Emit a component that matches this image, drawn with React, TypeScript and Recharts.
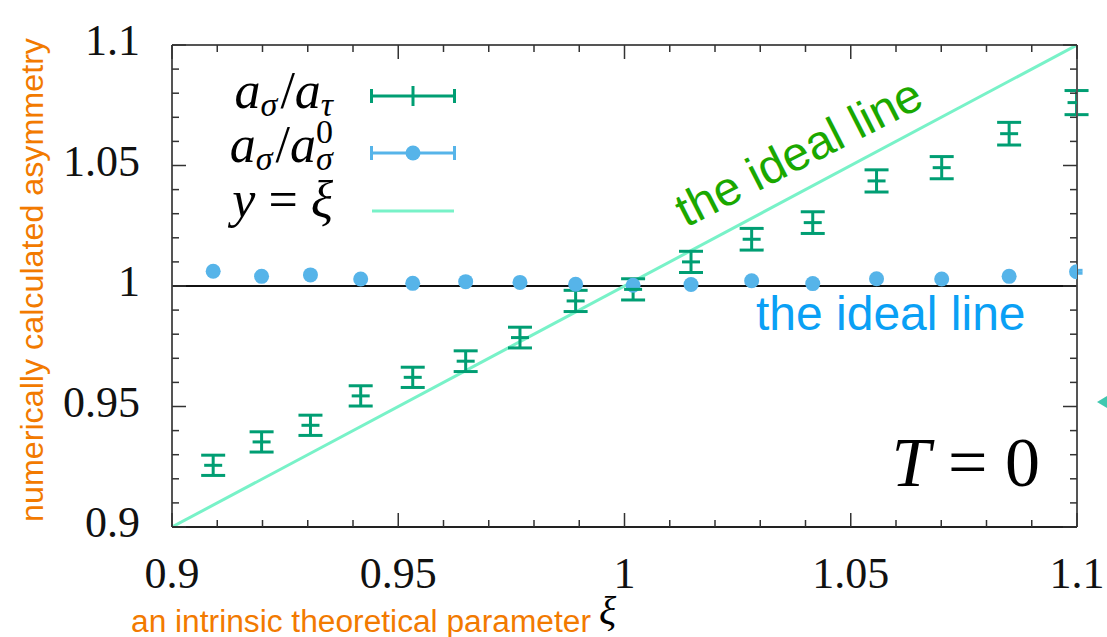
import React from "react";
import {
  ComposedChart,
  Scatter,
  Line,
  XAxis,
  YAxis,
  ErrorBar,
  ReferenceLine,
} from "recharts";

// ---- data ----
const xiValues = [
  0.9091, 0.9198, 0.9306, 0.9417, 0.9532, 0.9649, 0.9769, 0.9892, 1.0019,
  1.0147, 1.0281, 1.0416, 1.0557, 1.0701, 1.085, 1.0999,
];
const ratioTau = [
  0.9256, 0.9353, 0.9422, 0.9544, 0.9621, 0.9688, 0.9786, 0.9938, 0.9986,
  1.01, 1.0194, 1.0263, 1.0436, 1.0491, 1.0632, 1.0761,
];
const ratioTauErr = [
  0.0042, 0.0042, 0.0042, 0.0042, 0.0042, 0.0043, 0.0043, 0.0044, 0.0044,
  0.0044, 0.0045, 0.0045, 0.0046, 0.0046, 0.0047, 0.005,
];
const ratioZero = [
  1.0061, 1.004, 1.0046, 1.0029, 1.0011, 1.0018, 1.0015, 1.0007, 1.0003,
  1.0006, 1.0022, 1.001, 1.003, 1.0029, 1.004, 1.0059,
];
const ratioZeroErr = [
  0.0006, 0.0006, 0.0006, 0.0006, 0.0006, 0.0006, 0.0006, 0.0006, 0.0006,
  0.0006, 0.0006, 0.0006, 0.0006, 0.0006, 0.0006, 0.0006,
];
const idealX = [0.9, 1.1];
const xTicks = [
  0.9, 0.91, 0.92, 0.93, 0.94, 0.95, 0.96, 0.97, 0.98, 0.99, 1.0, 1.01, 1.02,
  1.03, 1.04, 1.05, 1.06, 1.07, 1.08, 1.09, 1.1,
];
const yTicks = xTicks;
const majorTicks = [0.9, 0.95, 1.0, 1.05, 1.1];
const majorTickLabels = ["0.9", "0.95", "1", "1.05", "1.1"];

const tauData = xiValues.map((x, i) => ({ x, y: ratioTau[i], err: ratioTauErr[i] }));
const zeroData = xiValues.map((x, i) => ({ x, y: ratioZero[i], err: ratioZeroErr[i] }));
const idealData = idealX.map((x) => ({ x, y: x }));

// ---- style ----
const W = 1107;
const H = 637;
const M_TOP = 45;
const M_RIGHT = 30;
const Y_AXIS_W = 172;
const X_AXIS_H = 110;
const PLOT_W = W - Y_AXIS_W - M_RIGHT;
const PLOT_H = H - M_TOP - X_AXIS_H;

const GREEN = "#009e73";
const BLUE = "#56b4e9";
const AQUA = "#78f2c8";
const ORANGE = "#f27a00";
const SERIF = "'Liberation Serif', 'DejaVu Serif', serif";
const SANS = "'Liberation Sans', Arial, sans-serif";
const TICK_COLOR = "#333";

const labelFor = (v: number) => {
  const idx = majorTicks.findIndex((m) => Math.abs(m - v) < 1e-9);
  return idx >= 0 ? majorTickLabels[idx] : null;
};

const XTick = (props: any) => {
  const { x, y, payload } = props;
  const label = labelFor(payload.value);
  const len = label ? 14 : 7;
  return (
    <g>
      <line x1={x} y1={y} x2={x} y2={y - len} stroke={TICK_COLOR} strokeWidth={1.5} />
      <line x1={x} y1={y - PLOT_H} x2={x} y2={y - PLOT_H + len} stroke={TICK_COLOR} strokeWidth={1.5} />
      {label && (
        <text x={x} y={y + 61} textAnchor="middle" fontFamily={SERIF} fontSize={44} fill="#111">
          {label}
        </text>
      )}
    </g>
  );
};

const YTick = (props: any) => {
  const { x, y, payload } = props;
  const label = labelFor(payload.value);
  const len = label ? 14 : 7;
  return (
    <g>
      <line x1={x} y1={y} x2={x + len} y2={y} stroke={TICK_COLOR} strokeWidth={1.5} />
      <line x1={x + PLOT_W} y1={y} x2={x + PLOT_W - len} y2={y} stroke={TICK_COLOR} strokeWidth={1.5} />
      {label && (
        <text x={x - 32} y={y + 10} textAnchor="end" fontFamily={SERIF} fontSize={44} fill="#111">
          {label}
        </text>
      )}
    </g>
  );
};

const PlusShape = (props: any) => {
  const { cx, cy } = props;
  return (
    <g>
      <line x1={cx - 9} y1={cy} x2={cx + 9} y2={cy} stroke={GREEN} strokeWidth={3} />
    </g>
  );
};

const DotShape = (props: any) => {
  const { cx, cy } = props;
  return <circle cx={cx} cy={cy} r={7.5} fill={BLUE} />;
};

const Overlay = () => (
  <svg
    width={W}
    height={H}
    style={{ position: "absolute", left: 0, top: 0, pointerEvents: "none" }}
  >
    {/* legend */}
    <text x={333} y={108} textAnchor="end" fontFamily={SERIF} fontSize={52} fill="#000">
      <tspan fontStyle="italic">a</tspan>
      <tspan fontStyle="italic" fontSize={34} dy={8}>σ</tspan>
      <tspan dy={-8} dx={3}>/</tspan>
      <tspan fontStyle="italic">a</tspan>
      <tspan fontStyle="italic" fontSize={34} dy={8}>τ</tspan>
    </text>
    <line x1={370} y1={96} x2={456} y2={96} stroke={GREEN} strokeWidth={3} />
    <line x1={371.5} y1={89} x2={371.5} y2={103} stroke={GREEN} strokeWidth={3} />
    <line x1={454.5} y1={89} x2={454.5} y2={103} stroke={GREEN} strokeWidth={3} />
    <line x1={413} y1={86} x2={413} y2={106} stroke={GREEN} strokeWidth={3} />

    <text x={333} y={162} textAnchor="end" fontFamily={SERIF} fontSize={52} fill="#000">
      <tspan fontStyle="italic">a</tspan>
      <tspan fontStyle="italic" fontSize={34} dy={8}>σ</tspan>
      <tspan dy={-8} dx={3}>/</tspan>
      <tspan fontStyle="italic">a</tspan>
      <tspan fontSize={34} dy={-19}>0</tspan>
      <tspan fontStyle="italic" fontSize={34} dx={-17} dy={27}>σ</tspan>
    </text>
    <line x1={370} y1={153} x2={456} y2={153} stroke={BLUE} strokeWidth={3} />
    <line x1={371.5} y1={146} x2={371.5} y2={160} stroke={BLUE} strokeWidth={3} />
    <line x1={454.5} y1={146} x2={454.5} y2={160} stroke={BLUE} strokeWidth={3} />
    <circle cx={413} cy={153} r={7.5} fill={BLUE} />

    <text x={333} y={217} textAnchor="end" fontFamily={SERIF} fontSize={52} fill="#000">
      <tspan fontStyle="italic">y</tspan>
      <tspan> = </tspan>
      <tspan fontStyle="italic">ξ</tspan>
    </text>
    <line x1={372} y1={211} x2={454} y2={211} stroke={AQUA} strokeWidth={3} />

    {/* annotations */}
    <text
      x={686}
      y={228}
      fontFamily={SANS}
      fontSize={48}
      fill="#1aa800"
      transform="rotate(-27 686 228)"
    >
      the ideal line
    </text>
    <text x={756} y={330} fontFamily={SANS} fontSize={48} fill="#0aa0f5">
      the ideal line
    </text>
    <text x={1040} y={486} textAnchor="end" fontFamily={SERIF} fontSize={70} fill="#000">
      <tspan fontStyle="italic">T</tspan>
      <tspan> = 0</tspan>
    </text>
    <polygon points="1097,402 1107,396 1107,408" fill="#40c8b0" />

    {/* axis titles */}
    <text
      x={43}
      y={280}
      textAnchor="middle"
      fontFamily={SANS}
      fontSize={31}
      fill={ORANGE}
      textLength={484}
      lengthAdjust="spacingAndGlyphs"
      transform="rotate(-90 43 280)"
    >
      numerically calculated asymmetry
    </text>
    <text
      x={131}
      y={632}
      fontFamily={SANS}
      fontSize={31}
      fill={ORANGE}
      textLength={460}
      lengthAdjust="spacingAndGlyphs"
    >
      an intrinsic theoretical parameter
    </text>
    <text x={599} y={624} fontFamily={SERIF} fontStyle="italic" fontSize={40} fill="#000">
      ξ
    </text>
  </svg>
);

export default function App() {
  return (
    <div style={{ position: "absolute", left: 0, top: 0, width: W, height: H, background: "#fff" }}>
      <ComposedChart
        width={W}
        height={H}
        margin={{ top: M_TOP, right: M_RIGHT, bottom: 0, left: 0 }}
      >
        <XAxis
          dataKey="x"
          type="number"
          domain={[0.9, 1.1]}
          ticks={xTicks}
          interval={0}
          height={X_AXIS_H}
          tickSize={0}
          tickMargin={0}
          axisLine={false}
          tickLine={false}
          tick={<XTick />}
          allowDataOverflow
        />
        <YAxis
          dataKey="y"
          type="number"
          domain={[0.9, 1.1]}
          ticks={yTicks}
          interval={0}
          width={Y_AXIS_W}
          tickSize={0}
          tickMargin={0}
          axisLine={false}
          tickLine={false}
          tick={<YTick />}
          allowDataOverflow
        />
        <ReferenceLine y={1} stroke="#111" strokeWidth={2} />
        <Line
          data={idealData}
          dataKey="y"
          stroke={AQUA}
          strokeWidth={3}
          dot={false}
          activeDot={false}
          isAnimationActive={false}
        />
        <Scatter data={zeroData} dataKey="y" shape={<DotShape />} isAnimationActive={false}>
          <ErrorBar dataKey="err" direction="y" width={6} stroke={BLUE} strokeWidth={3} />
        </Scatter>
        <Scatter data={tauData} dataKey="y" shape={<PlusShape />} isAnimationActive={false}>
          <ErrorBar dataKey="err" direction="y" width={12} stroke={GREEN} strokeWidth={3} />
        </Scatter>
        <ReferenceLine
          segment={[
            { x: 0.9, y: 0.9 },
            { x: 0.9, y: 1.1 },
          ]}
          stroke="#555"
          strokeWidth={2}
        />
        <ReferenceLine
          segment={[
            { x: 1.1, y: 0.9 },
            { x: 1.1, y: 1.1 },
          ]}
          stroke="#555"
          strokeWidth={2}
        />
        <ReferenceLine
          segment={[
            { x: 0.9, y: 0.9 },
            { x: 1.1, y: 0.9 },
          ]}
          stroke="#222"
          strokeWidth={2}
        />
        <ReferenceLine
          segment={[
            { x: 0.9, y: 1.1 },
            { x: 1.1, y: 1.1 },
          ]}
          stroke="#555"
          strokeWidth={2}
        />
      </ComposedChart>
      <Overlay />
    </div>
  );
}
